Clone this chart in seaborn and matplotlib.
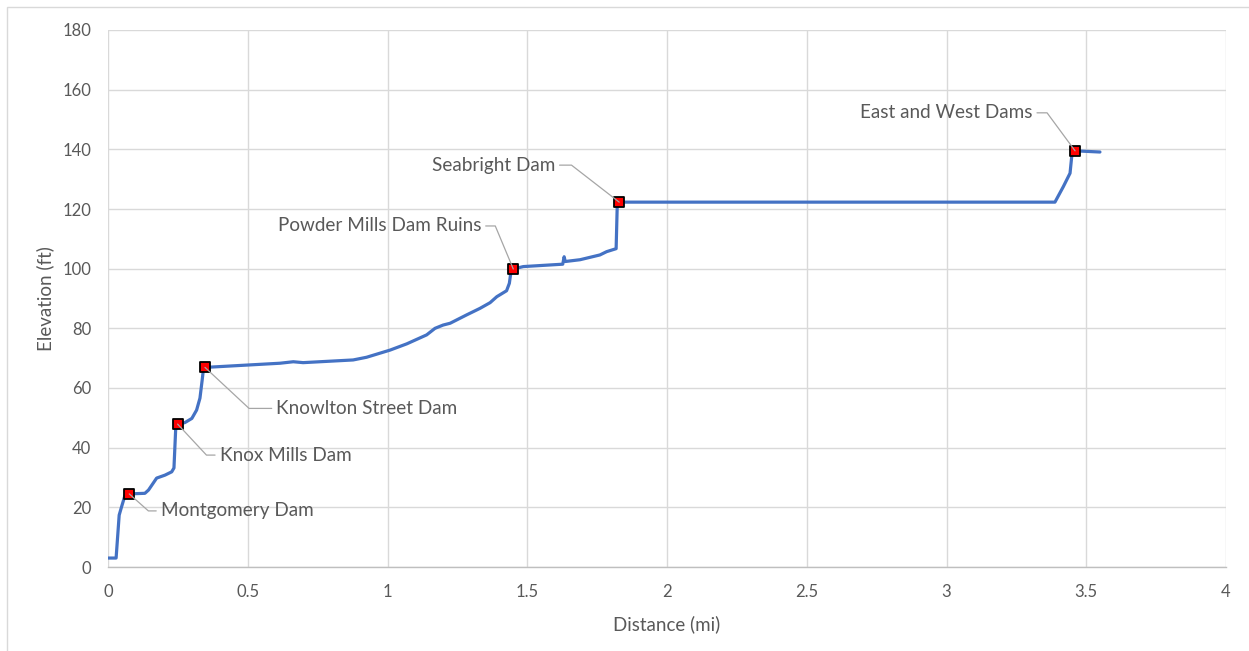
import math
import matplotlib
matplotlib.use("Agg")
import matplotlib.pyplot as plt
from matplotlib.patches import Rectangle
import numpy as np
import pandas as pd
import seaborn as sns

# River profile: distance upstream (mi) and water surface elevation (ft)
distance_mi = [
    0.000, 0.029, 0.040, 0.048, 0.061, 0.076,
    0.132, 0.145, 0.174, 0.204, 0.228, 0.236, 0.242, 0.249,
    0.275, 0.300, 0.317, 0.329, 0.337, 0.341, 0.347,
    0.500, 0.615, 0.663, 0.698, 0.877, 0.925, 1.009, 1.069, 1.140,
    1.170, 1.199, 1.224, 1.283, 1.331, 1.367, 1.391, 1.426, 1.436,
    1.441, 1.450,
    1.486, 1.627, 1.632, 1.636, 1.689, 1.760, 1.784, 1.818, 1.822, 1.829,
    3.388, 3.418, 3.442, 3.448, 3.460, 3.549,
]
elevation_ft = [
    3.0, 3.0, 17.4, 20.0, 24.1, 24.5,
    24.7, 25.8, 29.8, 30.8, 31.9, 33.2, 45.9, 47.9,
    48.4, 49.8, 52.6, 56.6, 62.7, 66.0, 66.9,
    67.7, 68.3, 68.8, 68.5, 69.4, 70.3, 72.7, 74.8, 77.8,
    80.0, 81.1, 81.7, 84.5, 86.7, 88.6, 90.6, 92.6, 95.1,
    98.5, 99.9,
    100.7, 101.5, 104.0, 102.4, 103.0, 104.6, 105.7, 106.7, 121.4, 122.3,
    122.3, 127.5, 132.0, 137.6, 139.5, 139.1,
]

# Dams along the profile
dam_names = [
    "Montgomery Dam", "Knox Mills Dam", "Knowlton Street Dam",
    "Powder Mills Dam Ruins", "Seabright Dam", "East and West Dams",
]
dam_distance_mi = [0.076, 0.249, 0.347, 1.450, 1.829, 3.460]
dam_elevation_ft = [24.5, 47.9, 66.9, 99.9, 122.3, 139.5]

x_ticks = [0, 0.5, 1, 1.5, 2, 2.5, 3, 3.5, 4]
x_tick_labels = ["0", "0.5", "1", "1.5", "2", "2.5", "3", "3.5", "4"]
y_ticks = [0, 20, 40, 60, 80, 100, 120, 140, 160, 180]

# Callout placement (pixels from the marker): label centre and leader elbow
label_offsets = [(108, -17), (108, -31), (162, -41), (-134, 43), (-126, 37), (-129, 38)]
elbow_offsets = [(18, -16), (27, -29), (43, -40), (-18, 43), (-49, 38), (-28, 38)]

sns.set_theme(style="white")
plt.rcParams["font.family"] = ["Lato", "DejaVu Sans"]

TEXT = "#595959"
GRID = "#d9d9d9"

profile = pd.DataFrame({"distance": distance_mi, "elevation": elevation_ft})
dams = pd.DataFrame({"name": dam_names, "distance": dam_distance_mi,
                     "elevation": dam_elevation_ft})

fig = plt.figure(figsize=(12.49, 6.51), dpi=100)
ax = fig.add_axes([108 / 1249, 84 / 651, 1118 / 1249, 537 / 651])

sns.lineplot(data=profile, x="distance", y="elevation", ax=ax, sort=False,
             estimator=None, color="#4472C4", linewidth=2.3, zorder=3)
sns.scatterplot(data=dams, x="distance", y="elevation", ax=ax, marker="s",
                s=62, color="#FF0000", edgecolor="black", linewidth=1.3, zorder=5)

for name, x, y, (tx, ty), (ex, ey) in zip(dam_names, dam_distance_mi, dam_elevation_ft,
                                          label_offsets, elbow_offsets):
    ang = math.degrees(math.atan2(ey, ex))
    ax.annotate(name, xy=(x, y), xytext=(tx, ty), textcoords="offset pixels",
                ha="center", va="center", fontsize=13.6, color=TEXT, zorder=6,
                arrowprops=dict(arrowstyle="-", color="#a6a6a6", lw=0.9,
                                connectionstyle=f"angle,angleA=0,angleB={ang},rad=0",
                                shrinkA=1, shrinkB=0))

ax.set_xlim(0, 4)
ax.set_ylim(0, 180)
ax.set_xticks(x_ticks)
ax.set_xticklabels(x_tick_labels)
ax.set_yticks(y_ticks)
ax.grid(True, color=GRID, linewidth=1.0)
ax.set_axisbelow(True)
for side in ["top", "right", "left"]:
    ax.spines[side].set_visible(False)
ax.spines["bottom"].set_color("#bfbfbf")
ax.spines["bottom"].set_linewidth(1.0)
ax.tick_params(axis="both", length=0, labelsize=12, labelcolor=TEXT)
ax.tick_params(axis="x", pad=12)
ax.tick_params(axis="y", pad=12)
ax.set_xlabel("Distance (mi)", fontsize=13.5, color=TEXT, labelpad=11)
ax.set_ylabel("Elevation (ft)", fontsize=13.5, color=TEXT, labelpad=6)

# Chart area frame
fig.patches.append(Rectangle((7 / 1249, -0.1), 1.2, 1.1 - 7 / 651,
                             transform=fig.transFigure, fill=False,
                             edgecolor=GRID, linewidth=1.0))

fig.savefig("out.png", dpi=100, facecolor="white")
